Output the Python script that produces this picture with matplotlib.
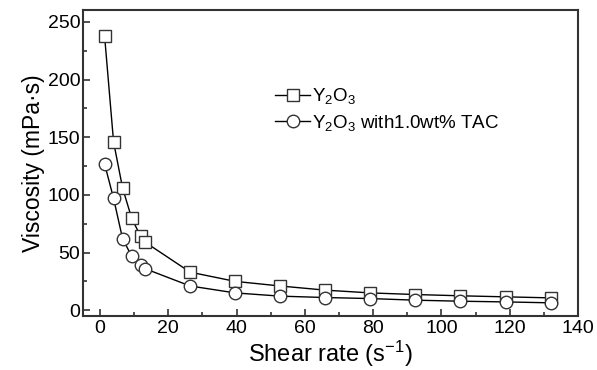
import matplotlib
matplotlib.use("Agg")
import matplotlib.pyplot as plt
from matplotlib.ticker import MultipleLocator

plt.rcParams["font.family"] = ["Liberation Sans", "DejaVu Sans"]
plt.rcParams["mathtext.fontset"] = "custom"
plt.rcParams["mathtext.rm"] = "Liberation Sans"
plt.rcParams["mathtext.default"] = "rm"

# 전단 속도 (s^-1)
shear_rate = [1.32, 3.96, 6.6, 9.24, 11.88, 13.2, 26.4, 39.6, 52.8, 66.0,
              79.2, 92.4, 105.6, 118.8, 132.0]
# 점도 (mPa·s)
visc_y2o3 = [238, 146, 106, 80, 64, 59, 33, 25, 21, 17.4, 15, 13.6, 12.5, 11.6, 10.7]
visc_tac = [127, 97, 62, 47, 39, 36, 21, 15, 12.2, 11, 10.1, 8.7, 7.8, 7.2, 6.4]

label_y2o3 = r"Y$_2$O$_3$"
label_tac = r"Y$_2$O$_3$ with1.0wt% TAC"

fig, ax = plt.subplots(figsize=(5.97, 3.70), dpi=100)
fig.subplots_adjust(left=0.139, right=0.968, top=0.972, bottom=0.146)

ax.plot(shear_rate, visc_y2o3, marker="s", color="black", linewidth=1.0,
        markersize=8, markerfacecolor="white", markeredgecolor="#333333",
        markeredgewidth=1.0, label=label_y2o3)
ax.plot(shear_rate, visc_tac, marker="o", color="black", linewidth=1.0,
        markersize=9, markerfacecolor="white", markeredgecolor="#333333",
        markeredgewidth=1.0, label=label_tac)

ax.set_xlim(-5, 140)
ax.set_ylim(-5, 260)
ax.xaxis.set_major_locator(MultipleLocator(20))
ax.xaxis.set_minor_locator(MultipleLocator(10))
ax.yaxis.set_major_locator(MultipleLocator(50))
ax.yaxis.set_minor_locator(MultipleLocator(25))
ax.tick_params(which="both", direction="in", labelsize=14, width=1.2,
               color="#333333")
ax.tick_params(axis="y", pad=2)
ax.tick_params(axis="x", pad=3)
ax.tick_params(which="major", length=5)
ax.tick_params(which="minor", length=3)
for s in ax.spines.values():
    s.set_linewidth(1.5)
    s.set_color("#333333")

ax.set_xlabel(r"Shear rate (s$^{-1}$)", fontsize=17, labelpad=1)
ax.set_ylabel("Viscosity (mPa·s)", fontsize=16.5, labelpad=2)

ax.legend(loc="upper left", bbox_to_anchor=(0.385, 0.758), frameon=False,
          fontsize=13.5, handlelength=1.85, handletextpad=0.1, labelspacing=0.35,
          borderpad=0.1, borderaxespad=0)

plt.savefig("out.png", dpi=100)
